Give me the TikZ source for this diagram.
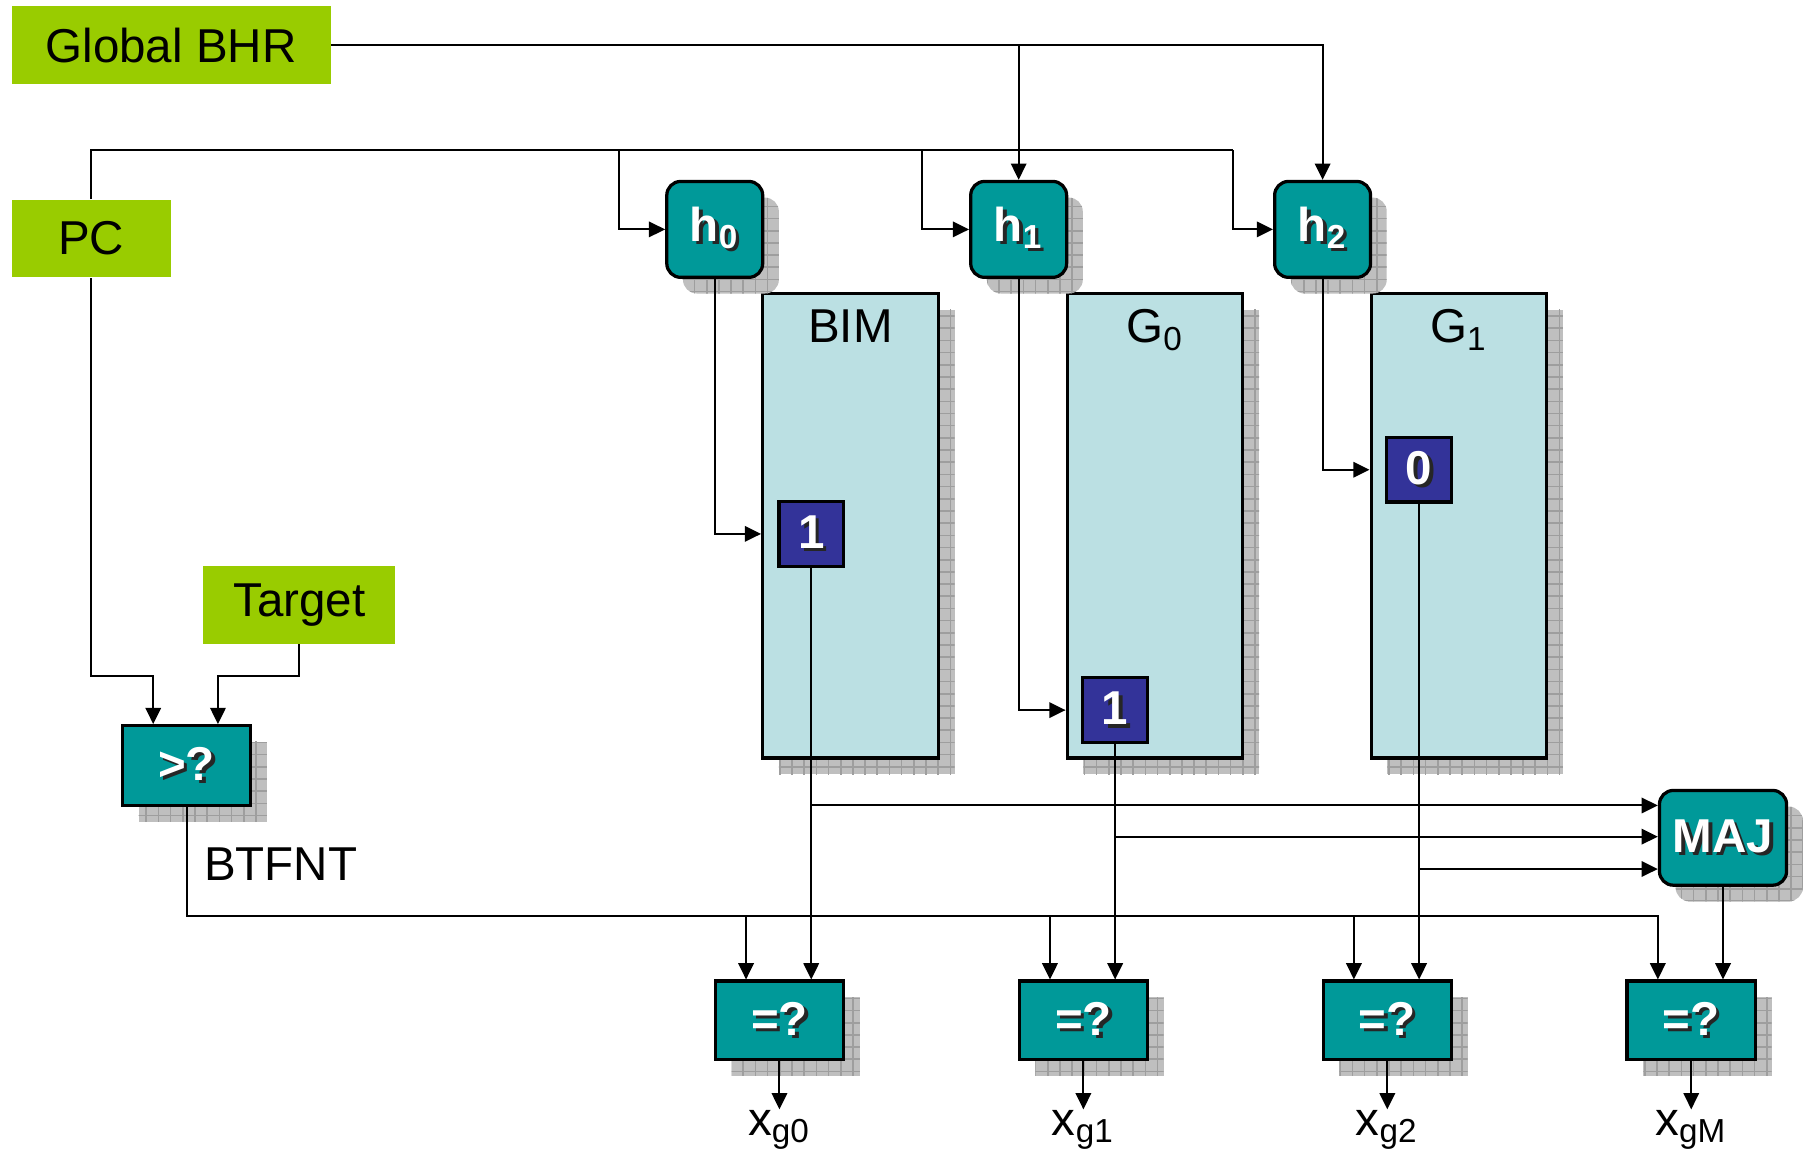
\documentclass[tikz,border=0pt]{standalone}
\usepackage{fontspec}
\setmainfont{Liberation Sans}
\usetikzlibrary{arrows.meta,shadows,patterns,calc}

\definecolor{bhrgreen}{HTML}{99CC00}
\definecolor{boxteal}{HTML}{009999}
\definecolor{tabblue}{HTML}{BBE0E3}
\definecolor{cellblue}{HTML}{333399}

\newcommand{\whitext}[1]{\makebox[0pt][l]{\kern0.8pt\raisebox{-0.8pt}{\color{black!85}#1}}\textcolor{white}{#1}}

\tikzset{
  every node/.style={font=\fontsize{11.7}{14}\selectfont},
  wire/.style={line width=0.5pt},
  greenbox/.style={fill=bhrgreen, inner sep=0pt, minimum height=6.7mm},
  shadowed/.style={drop shadow={shadow xshift=1.4mm, shadow yshift=-1.4mm, fill=black!25, opacity=1,
    postaction={pattern=grid, pattern color=black!38}}},
  tealbox/.style={draw, line width=0.8pt, fill=boxteal, inner sep=0pt, shadowed,
    font=\fontsize{11.7}{14}\selectfont\bfseries},
  hashbox/.style={tealbox, rounded corners=1.2mm, minimum size=8.3mm},
  cmpbox/.style={tealbox, minimum width=11.1mm, minimum height=6.8mm},
  tablebox/.style={draw, line width=0.8pt, fill=tabblue, shadowed, minimum width=15.2mm, minimum height=40.2mm},
  cellbox/.style={draw, line width=0.8pt, fill=cellblue, inner sep=0pt, minimum size=5.6mm,
    font=\fontsize{11.7}{14}\selectfont\bfseries},
  >={Triangle[length=4pt,width=3.8pt]}
}

\begin{document}
\begin{tikzpicture}[x=0.1mm, y=-0.1mm]
    \useasboundingbox (0,0) rectangle (1568,1001);

    % inputs
    \node[greenbox, minimum width=27.6mm] (bhr) at (148,39) {Global BHR};
    \node[greenbox, minimum width=13.8mm] (pc) at (79,206.5) {PC};
    \node[greenbox, minimum width=16.6mm] (target) at (259,523.5) {Target};

    % tables
    \node[tablebox] (bim) at (736,455) {};
    \node[tablebox] (g0tab) at (999.5,455) {};
    \node[tablebox] (g1tab) at (1262.5,455) {};
    \node[anchor=north] (bimlbl) at ([yshift=-0.3mm]bim.north) {BIM};
    \node[anchor=north] (g0lbl) at ([yshift=-0.3mm]g0tab.north) {G\textsubscript{0}};
    \node[anchor=north] (g1lbl) at ([yshift=-0.3mm]g1tab.north) {G\textsubscript{1}};

    \node[cellbox] (c0) at (702,462) {\whitext{1}};
    \node[cellbox] (c1) at (965,614.5) {\whitext{1}};
    \node[cellbox] (c2) at (1228,406.5) {\whitext{0}};

    % hash units
    \node[hashbox] (h0) at (618.5,198.5) {\whitext{h\textsubscript{0}}};
    \node[hashbox] (h1) at (881.5,198.5) {\whitext{h\textsubscript{1}}};
    \node[hashbox] (h2) at (1144.5,198.5) {\whitext{h\textsubscript{2}}};

    \node[tealbox, rounded corners=1.2mm, minimum width=11mm, minimum height=8.2mm] (maj) at (1491,725) {\whitext{MAJ}};
    \node[cmpbox, minimum height=6.9mm] (gt) at (161.5,662.5) {\whitext{>?}};
    \node[anchor=west, inner sep=0pt] (btfnt) at (176,748) {BTFNT};

    \foreach \n/\x in {0/674.5, 1/937.5, 2/1200.5, M/1463.5}{
        \node[cmpbox] (eq\n) at (\x,883) {\whitext{=?}};
        \node[anchor=north, inner sep=0pt] (xg\n) at (\x,960) {x\textsubscript{g\n}};
        \draw[wire,->] (eq\n.south) -- (xg\n.north);
        \coordinate (in\n) at ($(eq\n.north west)+(28,0)$);
    }

    % global history
    \draw[wire,->] (bhr.east) -| (h2.north);
    \draw[wire,->] (bhr.east -| h1.north) -- (h1.north);

    % pc bus
    \coordinate (pcl) at (79,130);
    \coordinate (b0) at (536,130);
    \coordinate (b1) at (798,130);
    \coordinate (b2) at (1067,130);
    \draw[wire] (pc.north) -- (pcl) -- (b2);
    \draw[wire,->] (b0) |- (h0.west);
    \draw[wire,->] (b1) |- (h1.west);
    \draw[wire,->] (b2) |- (h2.west);

    \draw[wire,->] (h0.south) |- (bim.west |- c0);
    \draw[wire,->] (h1.south) |- (g0tab.west |- c1);
    \draw[wire,->] (h2.south) |- (g1tab.west |- c2);

    % compare target
    \coordinate (gin1) at ($(gt.north west)+(28,0)$);
    \coordinate (gin2) at ($(gt.north west)+(84,0)$);
    \draw[wire,->] (pc.south) |- ($(gin1)+(0,-42)$) -- (gin1);
    \draw[wire,->] (target.south) |- ($(gin2)+(0,-42)$) -- (gin2);

    % predictions
    \draw[wire,->] (c0.south) -- (c0.south |- eq0.north);
    \draw[wire,->] (c1.south) -- (c1.south |- eq1.north);
    \draw[wire,->] (c2.south) -- (c2.south |- eq2.north);
    \draw[wire,->] (maj.south) -- (maj.south |- eqM.north);
    \foreach \c/\dy in {c0/-28, c1/-1, c2/27}{
        \coordinate (m\c) at ($(maj.west)+(0,\dy)$);
        \draw[wire,->] (\c.south |- m\c) -- (m\c);
    }

    \coordinate (btbus) at ($(inM)+(0,-55)$);
    \draw[wire,->] (gt.south) |- (btbus) -- (inM);
    \foreach \n in {0,1,2}
        \draw[wire,->] (in\n |- btbus) -- (in\n);
\end{tikzpicture}
\end{document}
